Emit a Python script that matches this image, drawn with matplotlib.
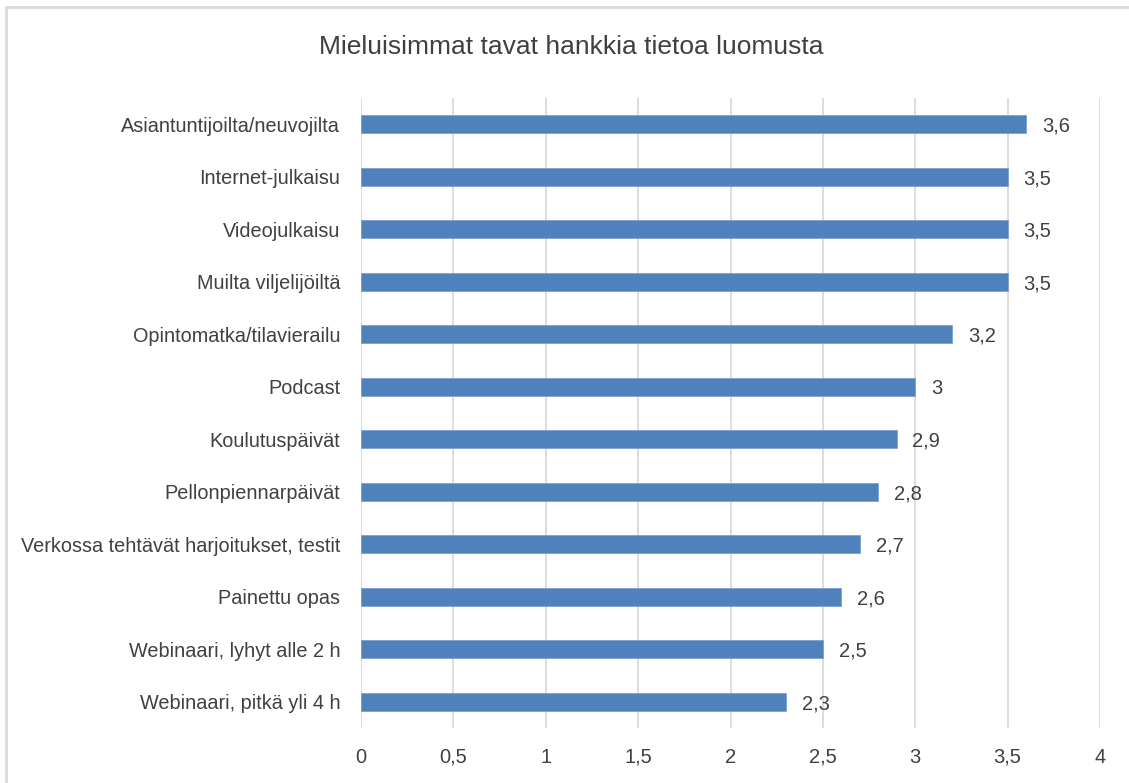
import matplotlib
matplotlib.use("Agg")
import matplotlib.pyplot as plt
from matplotlib.patches import Rectangle

categories = [
    "Asiantuntijoilta/neuvojilta",
    "Internet-julkaisu",
    "Videojulkaisu",
    "Muilta viljelijöiltä",
    "Opintomatka/tilavierailu",
    "Podcast",
    "Koulutuspäivät",
    "Pellonpiennarpäivät",
    "Verkossa tehtävät harjoitukset, testit",
    "Painettu opas",
    "Webinaari, lyhyt alle 2 h",
    "Webinaari, pitkä yli 4 h",
]
values = [3.6, 3.5, 3.5, 3.5, 3.2, 3.0, 2.9, 2.8, 2.7, 2.6, 2.5, 2.3]
value_labels = ["3,6", "3,5", "3,5", "3,5", "3,2", "3", "2,9", "2,8", "2,7", "2,6", "2,5", "2,3"]
xticks = [0, 0.5, 1, 1.5, 2, 2.5, 3, 3.5, 4]
xtick_labels = ["0", "0,5", "1", "1,5", "2", "2,5", "3", "3,5", "4"]
title = "Mieluisimmat tavat hankkia tietoa luomusta"

plt.rcParams['font.family'] = ['Liberation Sans', 'DejaVu Sans']
text_color = "#404040"

fig = plt.figure(figsize=(11.29, 7.83), dpi=100)
fig.patches.append(Rectangle((6/1129, -0.1), 1.2, 1.1 - 7/783, transform=fig.transFigure,
                             fill=False, edgecolor="#d9d9d9", linewidth=2))
ax = fig.add_axes([361/1129, 55/783, 739/1129, 630/783])

n = len(categories)
ypos = list(range(n - 1, -1, -1))
ax.barh(ypos, values, height=0.34, color="#4f81bd", edgecolor="#7ea1d0", linewidth=0.6, zorder=3)
for y, v, lab in zip(ypos, values, value_labels):
    ax.text(v + 0.085, y, lab, va="center_baseline", ha="left", fontsize=14.5, color=text_color)

ax.set_xlim(0, 4)
ax.set_ylim(-0.5, n - 0.5)
ax.set_yticks(ypos)
ax.set_yticklabels(categories, fontsize=14.3, color=text_color, va="center_baseline")
ax.set_xticks(xticks)
ax.set_xticklabels(xtick_labels, fontsize=14.5, color=text_color, va="baseline")
ax.tick_params(axis="x", length=0, pad=25)
ax.tick_params(axis="y", length=0, pad=15)
ax.xaxis.grid(True, color="#d9d9d9", linewidth=1.3, zorder=0)
ax.set_axisbelow(True)
for s in ax.spines.values():
    s.set_visible(False)

fig.text(571/1129, 1 - 47/783, title, ha="center", va="center", fontsize=19, color=text_color)

fig.savefig("out.png", dpi=100)
